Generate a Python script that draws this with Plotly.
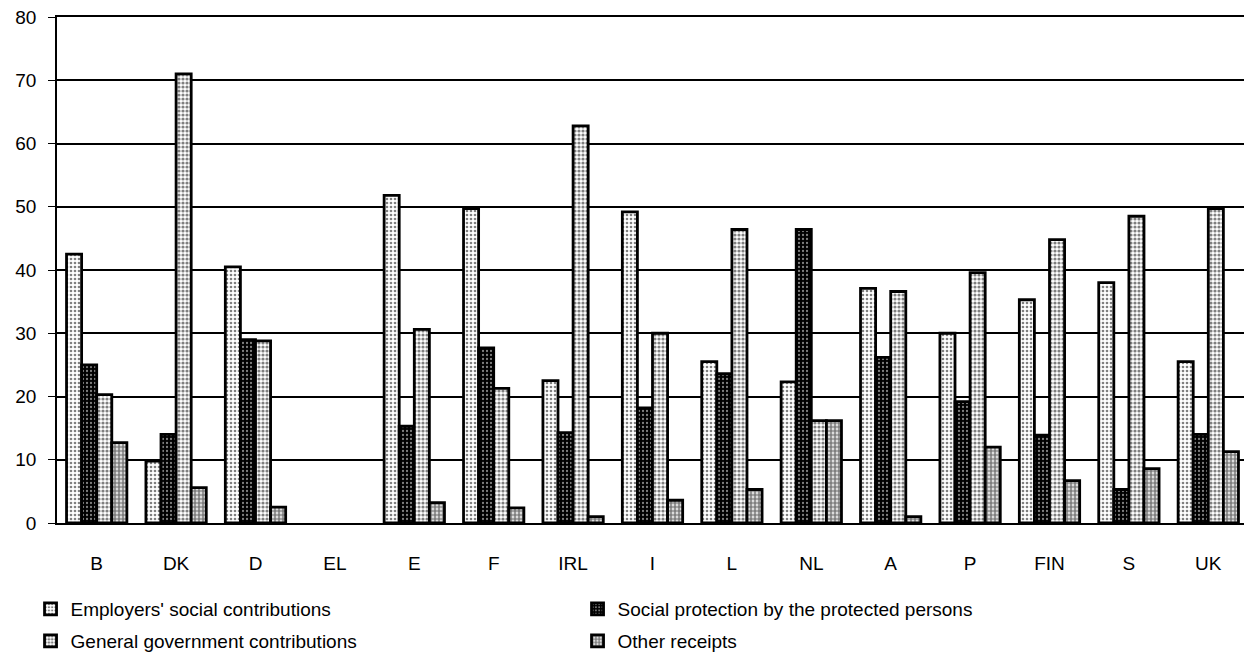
import plotly.graph_objects as go

countries = ["B", "DK", "D", "EL", "E", "F", "IRL", "I", "L", "NL", "A", "P", "FIN", "S", "UK"]
employers = [42.5, 9.8, 40.5, None, 51.8, 49.7, 22.5, 49.2, 25.5, 22.3, 37.1, 30.0, 35.3, 38.0, 25.5]
protected = [25.0, 14.0, 29.0, None, 15.3, 27.7, 14.3, 18.2, 23.6, 46.4, 26.2, 19.2, 13.9, 5.3, 14.0]
government = [20.3, 71.0, 28.8, None, 30.6, 21.3, 62.8, 30.0, 46.4, 16.2, 36.6, 39.6, 44.8, 48.5, 49.7]
other = [12.7, 5.6, 2.5, None, 3.2, 2.4, 1.0, 3.6, 5.3, 16.2, 1.0, 12.0, 6.7, 8.6, 11.3]

names = ["Employers' social contributions", "Social protection by the protected persons",
         "General government contributions", "Other receipts"]
series = [employers, protected, government, other]
patterns = [
    dict(shape=".", fgcolor="#000000", bgcolor="#ffffff", size=4, solidity=0.35),
    dict(shape=".", fgcolor="#ffffff", bgcolor="#000000", size=4, solidity=0.25),
    dict(shape=".", fgcolor="#000000", bgcolor="#ffffff", size=4, solidity=0.5),
    dict(shape=".", fgcolor="#000000", bgcolor="#ffffff", size=4, solidity=0.7),
]
legends = ["legend", "legend", "legend2", "legend2"]

fig = go.Figure()
for nm, vals, pat, lg in zip(names, series, patterns, legends):
    fig.add_trace(go.Bar(
        x=countries, y=vals, name=nm, legend=lg,
        marker=dict(color="white", pattern=pat, line=dict(color="black", width=2.8)),
    ))

font = dict(family="Liberation Sans, Arial, sans-serif", size=19, color="black")
fig.update_layout(
    width=1252, height=668,
    margin=dict(l=49, r=12, t=9, b=153),
    paper_bgcolor="white", plot_bgcolor="white",
    barmode="group", bargap=0.24, bargroupgap=0,
    font=font,
    legend=dict(orientation="h", xref="container", yref="container",
                x=0.018, y=(668 - 601) / 668, xanchor="left", yanchor="middle",
                entrywidth=502, entrywidthmode="pixels", font=font,
                bgcolor="rgba(0,0,0,0)"),
    legend2=dict(orientation="h", xref="container", yref="container",
                 x=0.018, y=(668 - 633) / 668, xanchor="left", yanchor="middle",
                 entrywidth=502, entrywidthmode="pixels", font=font,
                 bgcolor="rgba(0,0,0,0)"),
)
fig.update_yaxes(range=[0, 80], dtick=10, showgrid=True, gridcolor="black", gridwidth=1.5,
                 showline=True, linecolor="black", linewidth=1.5, mirror=True,
                 ticks="outside", ticklen=7, tickcolor="black", zeroline=False,
                 tickfont=font, ticklabelstandoff=8, automargin=False,
                 ticklabeloverflow="allow")
fig.update_xaxes(showline=True, linecolor="black", linewidth=1.5, mirror=True,
                 ticks="", tickfont=font, ticklabelstandoff=22, automargin=False)

fig.write_html("out.html")
